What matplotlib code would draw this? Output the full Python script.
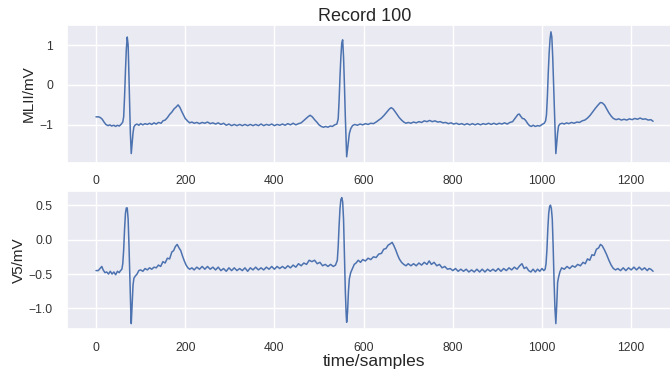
import matplotlib
matplotlib.use("Agg")
import matplotlib.pyplot as plt
import seaborn as sns

# MLII lead (sample, mV)
mlii_t = [0, 6, 10, 14, 18, 22, 27, 31, 35, 40, 44, 48, 52, 56, 60, 62, 64, 66, 68, 70,
          72, 73, 75, 77, 79, 81, 83, 85, 88, 92, 96, 100, 105, 110, 115, 120, 125, 130, 135, 140,
          146, 150, 155, 160, 165, 170, 175, 180, 184, 188, 192, 196, 200, 205, 210, 215, 220, 226, 232, 238,
          244, 250, 256, 262, 268, 274, 280, 286, 292, 298, 304, 310, 316, 322, 328, 334, 340, 346, 352, 358,
          364, 370, 376, 382, 388, 394, 400, 406, 412, 418, 424, 430, 436, 442, 448, 454, 460, 465, 470, 475,
          480, 485, 490, 495, 500, 505, 510, 515, 520, 525, 530, 535, 540, 543, 545, 547, 549, 551, 553, 555,
          557, 559, 561, 562, 564, 566, 568, 571, 575, 580, 586, 592, 598, 604, 610, 616, 622, 628, 634, 640,
          646, 652, 658, 662, 666, 670, 675, 680, 685, 690, 695, 700, 706, 712, 718, 724, 730, 736, 742, 748,
          754, 760, 766, 772, 778, 784, 790, 796, 802, 808, 814, 820, 826, 832, 838, 844, 850, 856, 862, 868,
          874, 880, 886, 892, 898, 904, 910, 916, 922, 928, 934, 938, 942, 946, 949, 952, 956, 960, 964, 968,
          972, 976, 980, 985, 990, 995, 1000, 1005, 1008, 1010, 1012, 1014, 1016, 1018, 1020, 1022, 1024, 1026, 1028, 1030,
          1031, 1033, 1035, 1037, 1040, 1045, 1050, 1055, 1060, 1066, 1072, 1078, 1084, 1090, 1096, 1102, 1108, 1114, 1120, 1126,
          1131, 1135, 1140, 1145, 1150, 1155, 1160, 1166, 1172, 1178, 1184, 1190, 1196, 1202, 1208, 1214, 1220, 1226, 1232, 1238,
          1244, 1249]
mlii_v = [-0.80, -0.80, -0.82, -0.86, -0.93, -0.99, -1.02, -1.00, -1.03, -1.01, -1.04, -1.01, -1.03, -0.99, -0.93, -0.80, -0.30, 0.35, 0.90, 1.20,
          1.00, 0.60, -0.30, -1.20, -1.72, -1.45, -1.20, -1.05, -1.00, -0.98, -1.01, -0.97, -1.00, -0.97, -0.99, -0.96, -0.99, -0.95, -0.98, -0.94,
          -0.96, -0.90, -0.88, -0.82, -0.74, -0.68, -0.60, -0.55, -0.50, -0.56, -0.66, -0.75, -0.84, -0.90, -0.95, -0.93, -0.96, -0.94, -0.97, -0.94,
          -0.96, -0.93, -0.97, -0.95, -0.98, -0.95, -0.99, -0.96, -1.01, -0.98, -1.02, -0.99, -1.02, -0.99, -1.02, -0.99, -1.02, -0.99, -1.02, -0.99,
          -1.02, -0.98, -1.02, -0.99, -1.01, -0.98, -1.02, -0.99, -1.01, -0.98, -1.01, -0.97, -1.00, -0.96, -1.00, -0.97, -0.95, -0.90, -0.85, -0.80,
          -0.76, -0.80, -0.87, -0.93, -1.00, -1.04, -1.06, -1.04, -1.06, -1.03, -1.04, -1.00, -0.98, -0.85, -0.40, 0.20, 0.70, 1.05, 1.13, 0.70,
          0.00, -0.80, -1.50, -1.80, -1.60, -1.40, -1.22, -1.10, -1.02, -0.99, -1.01, -0.98, -1.00, -0.97, -0.99, -0.96, -0.97, -0.93, -0.88, -0.83,
          -0.76, -0.68, -0.60, -0.57, -0.60, -0.66, -0.74, -0.82, -0.88, -0.93, -0.96, -0.94, -0.96, -0.93, -0.95, -0.92, -0.94, -0.90, -0.92, -0.89,
          -0.92, -0.90, -0.93, -0.92, -0.95, -0.94, -0.97, -0.95, -0.98, -0.96, -0.99, -0.97, -1.00, -0.97, -1.00, -0.97, -1.00, -0.97, -1.00, -0.97,
          -0.99, -0.96, -0.99, -0.96, -0.99, -0.96, -0.98, -0.95, -0.98, -0.94, -0.92, -0.86, -0.80, -0.74, -0.73, -0.78, -0.84, -0.85, -0.90, -0.97,
          -1.02, -1.04, -1.01, -1.04, -1.02, -1.03, -0.99, -0.96, -0.90, -0.75, -0.30, 0.30, 0.80, 1.15, 1.33, 1.20, 0.70, 0.00, -0.70, -1.40,
          -1.72, -1.45, -1.20, -1.03, -0.98, -0.96, -0.98, -0.95, -0.97, -0.94, -0.96, -0.93, -0.94, -0.90, -0.88, -0.83, -0.76, -0.67, -0.58, -0.50,
          -0.44, -0.45, -0.50, -0.60, -0.70, -0.78, -0.84, -0.87, -0.85, -0.88, -0.86, -0.88, -0.85, -0.87, -0.84, -0.86, -0.83, -0.86, -0.85, -0.88,
          -0.87, -0.91]

# V5 lead
v5_t = [0, 5, 9, 13, 16, 20, 24, 28, 32, 36, 40, 44, 48, 52, 55, 58, 60, 62, 64, 66,
        68, 70, 72, 74, 76, 78, 79, 81, 83, 85, 88, 92, 96, 100, 105, 110, 115, 120, 125, 130,
        135, 140, 145, 150, 155, 160, 165, 170, 174, 178, 182, 186, 190, 194, 198, 202, 206, 210, 215, 220,
        226, 232, 238, 244, 250, 256, 262, 268, 274, 280, 286, 292, 298, 304, 310, 316, 322, 328, 334, 340,
        346, 352, 358, 364, 370, 376, 382, 388, 394, 400, 406, 412, 418, 424, 430, 436, 442, 448, 454, 460,
        466, 472, 478, 484, 490, 496, 502, 508, 514, 520, 526, 532, 537, 541, 543, 545, 547, 549, 551, 553,
        555, 557, 559, 561, 562, 564, 566, 568, 571, 575, 579, 583, 588, 593, 598, 604, 610, 616, 622, 628,
        634, 640, 645, 650, 655, 660, 664, 668, 672, 676, 680, 685, 690, 695, 700, 706, 712, 718, 724, 730,
        736, 742, 747, 752, 758, 764, 770, 776, 782, 788, 794, 800, 806, 812, 818, 824, 830, 836, 842, 848,
        854, 860, 866, 872, 878, 884, 890, 896, 902, 908, 914, 920, 926, 932, 938, 944, 950, 955, 960, 965,
        970, 975, 980, 985, 990, 995, 1000, 1004, 1007, 1009, 1011, 1013, 1015, 1017, 1019, 1021, 1023, 1025, 1027, 1029,
        1031, 1033, 1035, 1037, 1040, 1044, 1050, 1056, 1062, 1068, 1074, 1080, 1086, 1092, 1097, 1102, 1107, 1112, 1117, 1122,
        1127, 1131, 1135, 1140, 1145, 1150, 1155, 1160, 1165, 1170, 1176, 1182, 1188, 1194, 1200, 1206, 1212, 1218, 1224, 1230,
        1236, 1240, 1244, 1249]
v5_v = [-0.45, -0.45, -0.42, -0.39, -0.44, -0.48, -0.47, -0.50, -0.46, -0.50, -0.47, -0.51, -0.46, -0.48, -0.45, -0.43, -0.35, -0.15, 0.15, 0.38,
        0.46, 0.46, 0.30, -0.10, -0.60, -1.05, -1.22, -0.95, -0.66, -0.56, -0.53, -0.50, -0.45, -0.44, -0.46, -0.42, -0.44, -0.41, -0.43, -0.40,
        -0.41, -0.37, -0.39, -0.32, -0.34, -0.27, -0.28, -0.18, -0.16, -0.10, -0.07, -0.12, -0.16, -0.24, -0.31, -0.37, -0.41, -0.43, -0.41, -0.44,
        -0.40, -0.43, -0.39, -0.43, -0.39, -0.43, -0.40, -0.44, -0.40, -0.45, -0.42, -0.46, -0.41, -0.45, -0.41, -0.45, -0.42, -0.45, -0.41, -0.46,
        -0.41, -0.44, -0.40, -0.44, -0.41, -0.44, -0.40, -0.43, -0.39, -0.43, -0.39, -0.42, -0.39, -0.42, -0.38, -0.41, -0.37, -0.40, -0.35, -0.38,
        -0.34, -0.36, -0.30, -0.32, -0.30, -0.35, -0.33, -0.38, -0.36, -0.39, -0.36, -0.39, -0.37, -0.30, -0.10, 0.20, 0.45, 0.58, 0.61, 0.55,
        0.30, -0.20, -0.75, -1.10, -1.20, -1.05, -0.75, -0.57, -0.48, -0.42, -0.36, -0.34, -0.30, -0.33, -0.29, -0.31, -0.27, -0.29, -0.25, -0.26,
        -0.21, -0.20, -0.14, -0.13, -0.08, -0.06, -0.04, -0.09, -0.15, -0.22, -0.28, -0.33, -0.36, -0.38, -0.35, -0.38, -0.35, -0.38, -0.34, -0.37,
        -0.33, -0.36, -0.31, -0.36, -0.33, -0.38, -0.36, -0.41, -0.39, -0.43, -0.42, -0.45, -0.42, -0.46, -0.43, -0.46, -0.43, -0.47, -0.44, -0.47,
        -0.43, -0.47, -0.43, -0.47, -0.43, -0.46, -0.43, -0.46, -0.42, -0.46, -0.42, -0.45, -0.41, -0.44, -0.40, -0.43, -0.38, -0.35, -0.42, -0.40,
        -0.45, -0.47, -0.43, -0.47, -0.43, -0.46, -0.42, -0.45, -0.43, -0.35, -0.15, 0.15, 0.38, 0.48, 0.50, 0.45, 0.30, -0.10, -0.60, -1.00,
        -1.22, -0.95, -0.62, -0.55, -0.47, -0.41, -0.43, -0.39, -0.42, -0.38, -0.40, -0.36, -0.38, -0.33, -0.35, -0.28, -0.30, -0.22, -0.23, -0.14,
        -0.12, -0.07, -0.09, -0.15, -0.22, -0.30, -0.37, -0.42, -0.44, -0.42, -0.45, -0.41, -0.45, -0.41, -0.44, -0.40, -0.44, -0.40, -0.44, -0.41,
        -0.45, -0.42, -0.43, -0.46]

leads = ["MLII/mV", "V5/mV"]

sns.set_theme(style="darkgrid")
plt.rcParams['font.family'] = ['Liberation Sans', 'DejaVu Sans']

fig, (ax1, ax2) = plt.subplots(2, 1, figsize=(6.7, 3.74), dpi=100)
fig.subplots_adjust(left=0.1007, right=1.016, top=0.933, bottom=0.12, hspace=0.208)

ax1.plot(mlii_t, mlii_v, color='#4c72b0', lw=1.1)
ax2.plot(v5_t, v5_v, color='#4c72b0', lw=1.1)

for ax, lab in zip((ax1, ax2), leads):
    ax.set_xlim(-64, 1311)
    ax.set_xticks([0, 200, 400, 600, 800, 1000, 1200])
    ax.set_ylabel(lab, fontsize=11, color='#262626', labelpad=2)
    ax.tick_params(axis='x', labelsize=8.7, pad=3, colors='#333333')
    ax.tick_params(axis='y', labelsize=8.7, pad=4.5, colors='#333333')

ax1.set_ylim(-1.95, 1.5)
ax1.set_yticks([-1, 0, 1])
ax2.set_ylim(-1.30, 0.70)
ax2.set_yticks([-1.0, -0.5, 0.0, 0.5])
ax2.set_xlabel("time/samples", fontsize=12.5, color='#262626', labelpad=0)

fig.text(0.545, 0.957, "Record 100", ha='center', va='center', fontsize=13, color='#262626')

fig.savefig("out.png", dpi=100)
